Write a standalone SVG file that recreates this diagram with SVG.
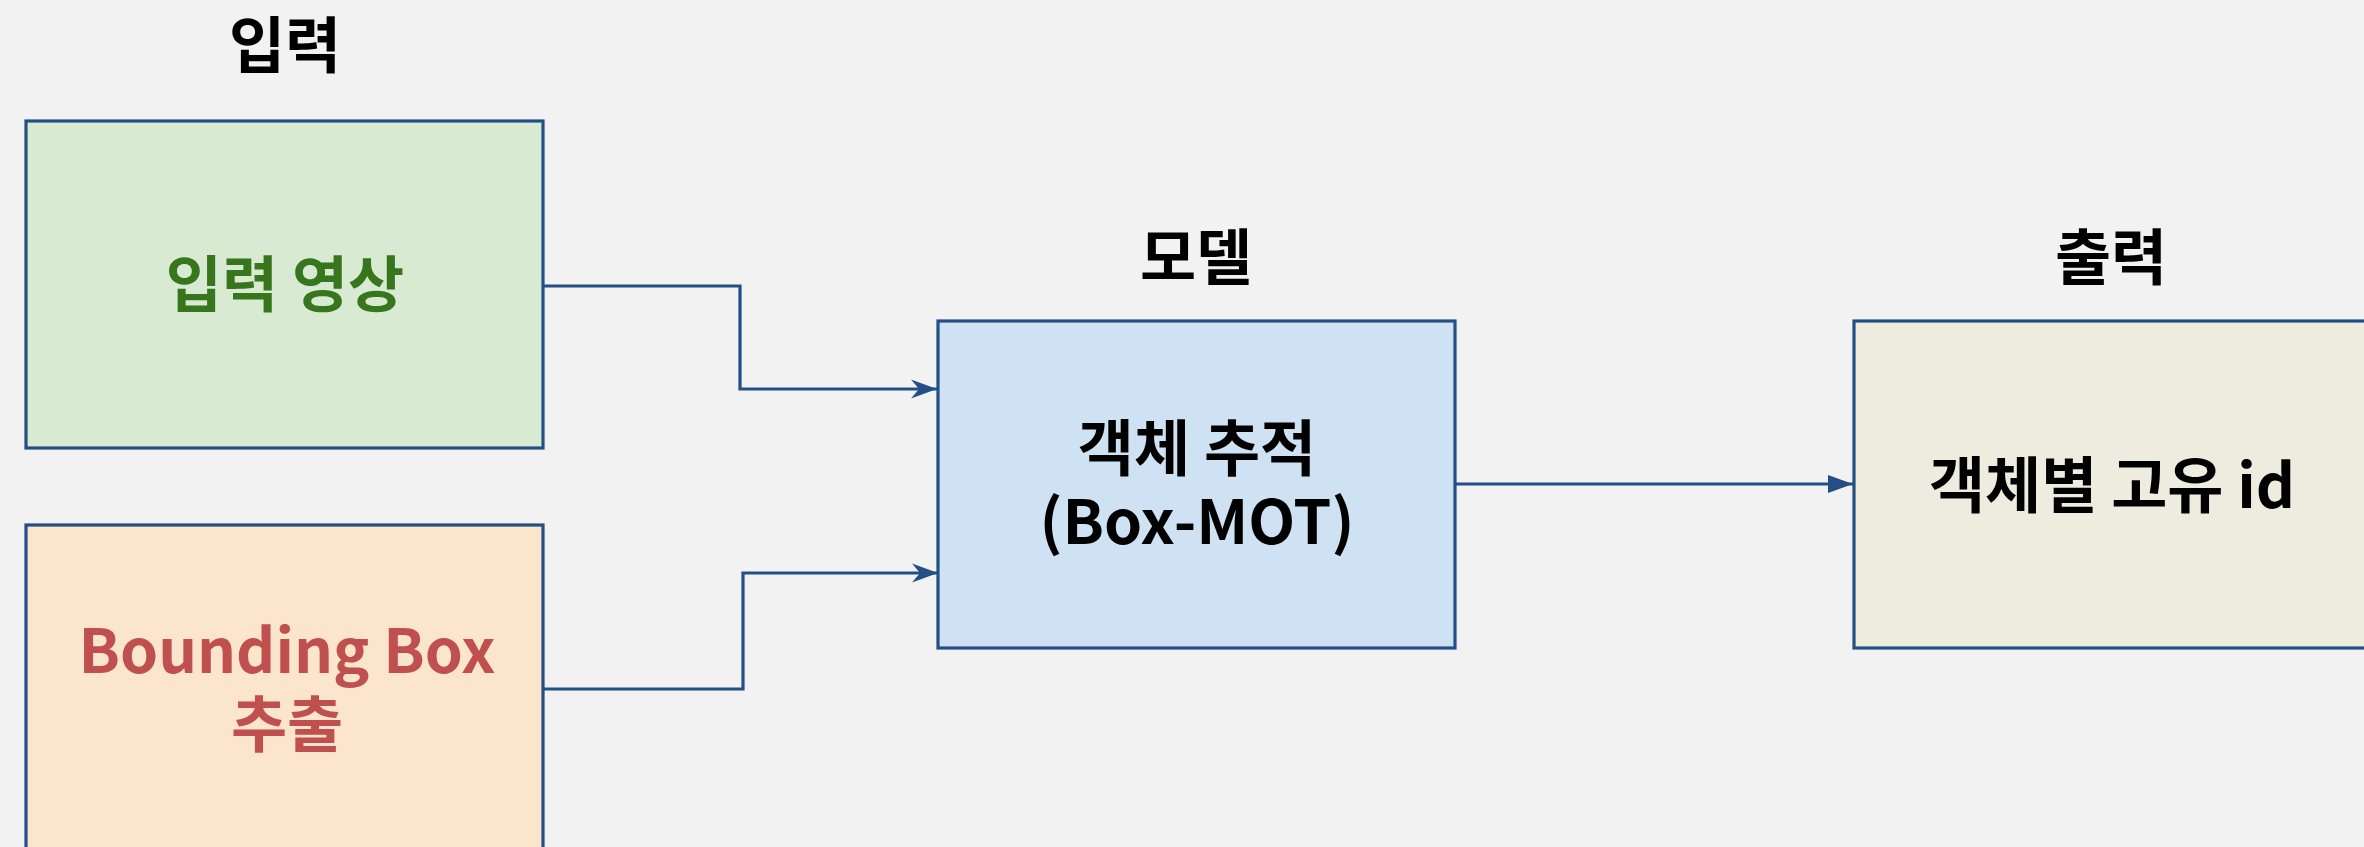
<svg xmlns="http://www.w3.org/2000/svg" width="2364" height="847" viewBox="0 0 2364 847">
<style>
text{font-family:"Noto Sans CJK KR","Noto Sans",sans-serif;font-weight:700;text-anchor:middle;font-size:61px}
.box{stroke:#234f84;stroke-width:3.2}
.title{fill:#000}
.conn{fill:none;stroke:#234f84;stroke-width:3.2}
</style>
<defs>
<marker id="stealth" markerUnits="userSpaceOnUse" markerWidth="30" markerHeight="24" refX="26" refY="10" orient="auto" viewBox="0 0 30 24" overflow="visible">
<path d="M0,0.5 L26,10 L0,19.5 L8,10 z" fill="#234f84"/>
</marker>
<marker id="block" markerUnits="userSpaceOnUse" markerWidth="30" markerHeight="24" refX="25" refY="10" orient="auto" viewBox="0 0 30 24" overflow="visible">
<path d="M0,1 L25,10 L0,19 z" fill="#234f84"/>
</marker>
</defs>
<rect width="2364" height="847" fill="#f2f2f2"/>
<g id="titles">
<text class="title" x="285" y="68">입력</text>
<text class="title" x="1196" y="280">모델</text>
<text class="title" x="2111" y="280">출력</text>
</g>
<g id="input-video">
<rect class="box" x="26" y="121" width="517" height="327" fill="#d9ead3"/>
<text x="285" y="307" fill="#38761d">입력 영상</text>
</g>
<g id="bbox-extract">
<rect class="box" x="26" y="525" width="517" height="360" fill="#fce5cd"/>
<text x="287" y="673" fill="#c0504d">Bounding Box</text>
<text x="287" y="747" fill="#c0504d">추출</text>
</g>
<g id="tracker">
<rect class="box" x="938" y="321" width="517" height="327" fill="#cfe2f3"/>
<text x="1197" y="471" fill="#000">객체 추적</text>
<text x="1197" y="544" fill="#000">(Box-MOT)</text>
</g>
<g id="output">
<rect class="box" x="1854" y="321" width="560" height="327" fill="#eeebdf"/>
<text x="2112" y="508" fill="#000">객체별 고유 id</text>
</g>
<g id="connectors">
<path class="conn" d="M543,286 H740 V389 H937" marker-end="url(#stealth)"/>
<path class="conn" d="M543,689 H743 V573 H938" marker-end="url(#stealth)"/>
<path class="conn" d="M1455,484 H1853" marker-end="url(#block)"/>
</g>
</svg>
